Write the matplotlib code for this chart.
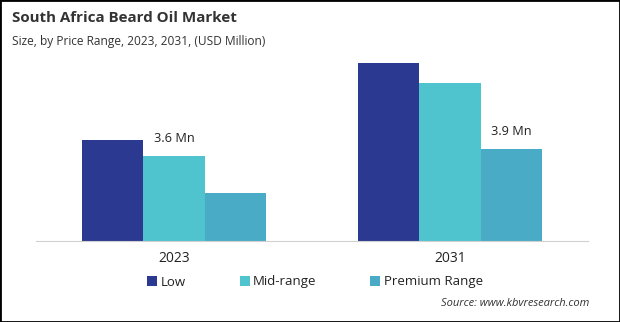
import matplotlib.pyplot as plt
from matplotlib.patches import Rectangle
import numpy as np

plt.rcParams['font.family'] = ['Open Sans', 'DejaVu Sans']

years = ['2023', '2031']
series = ['Low', 'Mid-range', 'Premium Range']
low = [4.28, 7.54]
mid = [3.6, 6.69]
premium = [2.03, 3.9]
colors = ['#2b3990', '#4fc4cf', '#4aabc6']

fig = plt.figure(figsize=(6.2, 3.22), dpi=100)
ax = fig.add_axes([36/620, 81/322, 552/620, 189/322])

x = np.arange(len(years))
w = 0.2225
b1 = ax.bar(x - w, low, w, color=colors[0], label=series[0])
b2 = ax.bar(x, mid, w, color=colors[1], label=series[1])
b3 = ax.bar(x + w, premium, w, color=colors[2], label=series[2])

ax.text(x[0], mid[0] + 0.45, '3.6 Mn', ha='center', va='bottom', fontsize=9.2, color='#222222')
ax.text(x[1] + w, premium[1] + 0.45, '3.9 Mn', ha='center', va='bottom', fontsize=9.2, color='#222222')

ax.set_xlim(-0.5, 1.5)
ax.set_ylim(0, 8)
ax.set_xticks(x)
ax.set_xticklabels(years, fontsize=10, color='#222222')
ax.tick_params(axis='x', length=0, pad=7)
ax.set_yticks([])
for s in ['top', 'right', 'left']:
    ax.spines[s].set_visible(False)
ax.spines['bottom'].set_color('#d0d0d0')

fig.legend(handles=[b1, b2, b3], loc='center', bbox_to_anchor=(315/620, 1 - 282/322),
           ncol=3, frameon=False, fontsize=9.5, handlelength=0.75, handleheight=0.75,
           handletextpad=0.25, columnspacing=4.1, labelcolor='#222222')

fig.text(12/620, 1 - 18/322, 'South Africa Beard Oil Market', fontsize=10.9,
         fontweight='bold', color='#333333', va='center')
fig.text(12/620, 1 - 42/322, 'Size, by Price Range, 2023, 2031, (USD Million)', fontsize=8.6,
         color='#333333', va='center')
fig.text(589/620, 1 - 303/322, 'Source: www.kbvresearch.com', fontsize=8, style='italic',
         color='#333333', ha='right', va='center')

fig.add_artist(Rectangle((0, 0), 1, 1, transform=fig.transFigure, fill=False,
                         edgecolor='black', linewidth=2))

fig.savefig('out.png', dpi=100)
